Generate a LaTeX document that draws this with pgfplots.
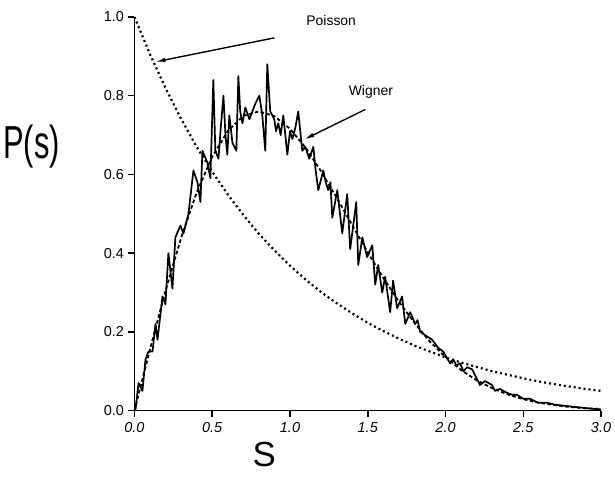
\documentclass[border=0pt]{standalone}
\usepackage{fontspec}
\setmainfont{Liberation Sans}
\usepackage{graphicx}
\usepackage{pgfplots}
\pgfplotsset{compat=1.18}
\usetikzlibrary{arrows.meta}
\begin{document}
\begin{tikzpicture}
\begin{axis}[
  scale only axis,
  width=467bp, height=394bp,
  xmin=0, xmax=3, ymin=0, ymax=1,
  axis x line*=bottom, axis y line*=left,
  axis line style={line width=1.8bp},
  every tick/.style={black, line width=1.5bp},
  tick align=outside, major tick length=6bp,
  xtick={0,0.5,1,1.5,2,2.5,3},
  ytick={0,0.2,0.4,0.6,0.8,1},
  /pgf/number format/assume math mode=true,
  /pgf/number format/fixed, /pgf/number format/fixed zerofill,
  /pgf/number format/precision=1,
  xticklabel style={font=\fontsize{14.5}{16}\selectfont\itshape, yshift=-2bp},
  yticklabel style={font=\fontsize{14.5}{16}\selectfont, xshift=-1bp},
  xlabel={\fontsize{35}{37}\selectfont S},
  xlabel style={at={(rel axis cs:0.278,0)}, anchor=center, yshift=-44bp},
  ylabel={\scalebox{1}[1.5]{\fontsize{31}{33}\selectfont P(s)}},
  ylabel style={rotate=-90, at={(rel axis cs:0,0.67)}, anchor=center, xshift=-103bp},
  clip=false,
]
% Poisson
\addplot[black, line width=2.2bp, dash pattern=on 2bp off 3bp] coordinates {
(0,1.000)(0.1,0.905)(0.2,0.819)(0.3,0.741)(0.4,0.670)(0.5,0.607)(0.6,0.549)
(0.7,0.497)(0.8,0.449)(0.9,0.407)(1.0,0.368)(1.1,0.333)(1.2,0.301)(1.3,0.273)
(1.4,0.247)(1.5,0.223)(1.6,0.202)(1.7,0.183)(1.8,0.165)(1.9,0.150)(2.0,0.135)
(2.1,0.122)(2.2,0.111)(2.3,0.100)(2.4,0.091)(2.5,0.082)(2.6,0.074)(2.7,0.067)
(2.8,0.061)(2.9,0.055)(3.0,0.050)};
% Wigner
\addplot[black, line width=1.8bp, dash pattern=on 3.5bp off 2.5bp] coordinates {
(0,0)(0.1,0.156)(0.2,0.305)(0.3,0.439)(0.4,0.554)(0.5,0.645)(0.6,0.710)
(0.7,0.749)(0.8,0.760)(0.9,0.748)(1.0,0.716)(1.1,0.668)(1.2,0.608)(1.3,0.541)
(1.4,0.471)(1.5,0.402)(1.6,0.337)(1.7,0.277)(1.8,0.223)(1.9,0.175)(2.0,0.136)
(2.1,0.103)(2.2,0.077)(2.3,0.057)(2.4,0.041)(2.5,0.029)(2.6,0.020)(2.7,0.014)
(2.8,0.009)(2.9,0.006)(3.0,0.004)};
% numerical histogram
\addplot[black, line width=1.7bp, line join=round] coordinates {
(0.006,0.0)(0.026,0.07)(0.051,0.05)(0.071,0.13)(0.09,0.15)(0.116,0.15)
(0.135,0.22)(0.148,0.18)(0.18,0.29)(0.199,0.27)(0.218,0.40)(0.244,0.31)
(0.263,0.44)(0.295,0.47)(0.315,0.45)(0.347,0.50)(0.379,0.61)(0.405,0.58)
(0.424,0.53)(0.437,0.66)(0.469,0.63)(0.488,0.59)(0.507,0.84)(0.52,0.66)
(0.54,0.64)(0.555,0.72)(0.572,0.80)(0.585,0.70)(0.597,0.65)(0.61,0.75)
(0.63,0.68)(0.655,0.66)(0.668,0.85)(0.68,0.76)(0.694,0.73)(0.713,0.77)
(0.739,0.74)(0.758,0.76)(0.777,0.78)(0.803,0.80)(0.822,0.75)(0.841,0.66)
(0.854,0.88)(0.873,0.76)(0.899,0.74)(0.91,0.71)(0.925,0.73)(0.94,0.70)
(0.957,0.75)(0.983,0.65)(1.0,0.71)(1.015,0.69)(1.035,0.72)(1.053,0.76)
(1.079,0.66)(1.098,0.67)(1.124,0.64)(1.15,0.67)(1.165,0.61)(1.182,0.56)
(1.214,0.61)(1.23,0.58)(1.246,0.56)(1.26,0.58)(1.272,0.49)(1.304,0.56)
(1.336,0.45)(1.368,0.55)(1.387,0.41)(1.426,0.53)(1.439,0.37)(1.465,0.44)
(1.496,0.39)(1.529,0.42)(1.548,0.32)(1.567,0.37)(1.593,0.30)(1.612,0.34)
(1.644,0.25)(1.663,0.33)(1.689,0.26)(1.721,0.29)(1.741,0.22)(1.773,0.25)
(1.805,0.22)(1.82,0.23)(1.837,0.20)(1.875,0.19)(1.914,0.18)(1.952,0.16)
(1.985,0.15)(2.03,0.12)(2.049,0.13)(2.07,0.115)(2.094,0.12)(2.115,0.10)
(2.139,0.11)(2.171,0.105)(2.203,0.08)(2.222,0.065)(2.254,0.075)(2.299,0.065)
(2.318,0.05)(2.35,0.055)(2.396,0.045)(2.43,0.04)(2.46,0.04)(2.5,0.03)
(2.543,0.03)(2.595,0.02)(2.652,0.02)(2.704,0.015)(2.768,0.012)(2.864,0.008)
(2.96,0.004)(3.0,0.003)};
% annotations
\node[font=\fontsize{14}{16}\selectfont] at (axis cs:1.265,0.99) {Poisson};
\draw[line width=1.4bp, -{Latex[length=10bp,width=4.5bp]}] (axis cs:0.90,0.947) -- (axis cs:0.135,0.886);
\node[font=\fontsize{14}{16}\selectfont] at (axis cs:1.52,0.81) {Wigner};
\draw[line width=1.4bp, -{Latex[length=10bp,width=4.5bp]}] (axis cs:1.484,0.765) -- (axis cs:1.092,0.689);
\end{axis}
\path (current axis.south west) ++(-134bp,-67bp) coordinate (bbA);
\path (current axis.north east) ++(14bp,17bp) coordinate (bbB);
\path (bbA) rectangle (bbB);
\end{tikzpicture}
\end{document}
